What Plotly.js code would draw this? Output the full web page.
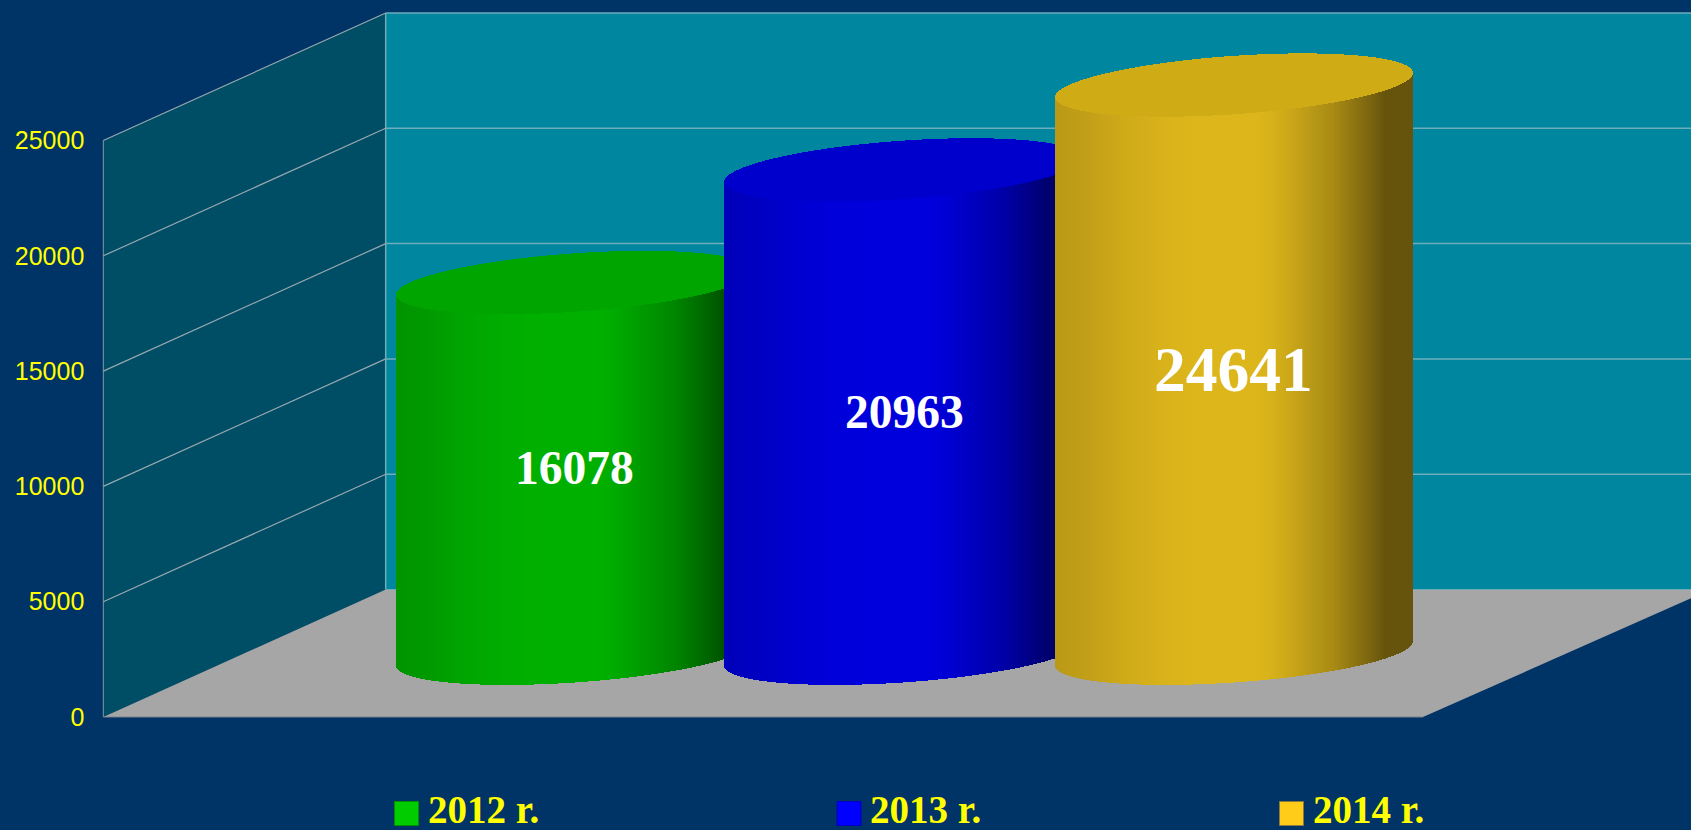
<!DOCTYPE html>
<html>
<head>
<meta charset="utf-8">
<script src="https://cdn.plot.ly/plotly-3.0.1.min.js"></script>
<style>html,body{margin:0;padding:0;background:#003366;overflow:hidden}</style>
</head>
<body>
<div id="chart" style="width:1691px;height:830px"></div>
<script>
// ---- data ----
const years = ['2012 r.', '2013 r.', '2014 r.'];
const values = [16078, 20963, 24641];
const tickValues = [0, 5000, 10000, 15000, 20000, 25000];
const bodyColors = [[0, 176, 0], [0, 0, 221], [221, 182, 27]];
const capColors = ['#00A500', '#0000CC', '#CFAC15'];
const swatchColors = ['#00CC00', '#0000FF', '#FFCC19'];
const swatchBorders = ['#009000', '#0000C0', '#8A7A40'];
const labelSizes = [47.5, 47.5, 63.5];

// ---- geometry of the pseudo-3D scene (x axis is in page pixels) ----
const pxPerUnit = 115.3 / 5000;
const zeroPx = 717;
const depth = 5529, wallDx = 282.4;
const leftX = 103.3, backX = leftX + wallDx, floorFrontRight = 1423, pageW = 1691, pageH = 830;
const cylCenters = [575, 903.5, 1234.5], cylA = 178.5;
const capB = 29.2 / pxPerUnit, capS = 12.2 / pxPerUnit;
const cylBase = depth / 2;
const shadeStops = [[0, .84], [.1, .88], [.2, .94], [.3, .98], [.4, 1], [.56, 1], [.6, .98], [.64, .94], [.68, .887],
                    [.78, .76], [.87, .58], [.925, .46], [1, .46]];

function shade(t) {
  for (let i = 1; i < shadeStops.length; i++) {
    if (t <= shadeStops[i][0]) {
      const [a, sa] = shadeStops[i - 1], [b, sb] = shadeStops[i];
      return sa + (sb - sa) * (t - a) / (b - a);
    }
  }
  return shadeStops[shadeStops.length - 1][1];
}
// vertical offset of the tilted ellipse rim at offset u (-1..1) from the centre
const rimTilt = u => capS * u;
const rimHalf = u => capB * Math.sqrt(Math.max(0, 1 - u * u));

const traces = [];
values.forEach((v, i) => {
  const xs = [], bodyBase = [], bodyH = [], bodyCol = [], capBase = [], capH = [];
  const x0 = Math.round(cylCenters[i] - cylA);
  const n = Math.round(2 * cylA);
  for (let k = 0; k < n; k++) {
    const t = (k + 0.5) / n;
    const u = 2 * t - 1;
    xs.push(x0 + k + 0.5);
    const low = cylBase + rimTilt(u) - rimHalf(u);
    bodyBase.push(low);
    bodyH.push(v);
    capBase.push(low + v);
    capH.push(2 * rimHalf(u));
    const s = shade(t), c = bodyColors[i];
    bodyCol.push(`rgb(${c.map(q => Math.round(q * s)).join(',')})`);
  }
  traces.push({type: 'bar', x: xs, y: bodyH, base: bodyBase, width: 1.02, name: years[i],
    marker: {color: bodyCol, line: {width: 0}}, showlegend: false, hoverinfo: 'skip'});
  traces.push({type: 'bar', x: xs, y: capH, base: capBase, width: 1.02, name: years[i],
    marker: {color: capColors[i], line: {width: 0}}, showlegend: false, hoverinfo: 'skip'});
});

// legend row
const legendX = [406.5, 849, 1291.5];
const legendTextX = [428, 870, 1313];
const legendY = (zeroPx - 813.5) / pxPerUnit;
years.forEach((name, i) => {
  traces.push({type: 'scatter', mode: 'markers', x: [legendX[i]], y: [legendY], name,
    cliponaxis: false, showlegend: false, hoverinfo: 'skip',
    marker: {symbol: 'square', size: 24, color: swatchColors[i], line: {width: 1, color: swatchBorders[i]}}});
  traces.push({type: 'scatter', mode: 'text', x: [legendTextX[i]], y: [legendY], name,
    text: [name], textposition: 'middle right', cliponaxis: false, showlegend: false, hoverinfo: 'skip',
    textfont: {family: '"Liberation Serif", serif', size: 39, color: '#FFFF00', weight: 'bold'}});
});

// walls, floor and gridlines
const poly = (pts, fill) => ({type: 'path', layer: 'below', xref: 'x', yref: 'y', fillcolor: fill, line: {width: 0},
  path: 'M' + pts.map(p => p.join(',')).join('L') + 'Z'});
const seg = (x0, y0, x1, y1, color, width) => ({type: 'line', layer: 'below', xref: 'x', yref: 'y', x0, y0, x1, y1, line: {color, width}});
const axisTop = tickValues[tickValues.length - 1];
const shapes = [
  poly([[leftX, 0], [leftX, axisTop], [backX, axisTop + depth], [backX, depth]], '#004D66'),
  poly([[backX, depth], [backX, axisTop + depth], [pageW, axisTop + depth], [pageW, depth]], '#00869F'),
  poly([[leftX, 0], [backX, depth], [pageW + 20, depth], [floorFrontRight, 0]], '#A6A6A6'),
  seg(leftX, 0, leftX, axisTop, '#7F9AA5', 1),
  seg(backX, depth, backX, axisTop + depth, '#6DAEBB', 1.5),
  seg(leftX, 0, floorFrontRight, 0, '#7A8088', 1)
];
tickValues.forEach(v => {
  if (v > 0) {
    shapes.push(seg(leftX, v, backX, v + depth, '#97A8AE', 1.2));
    shapes.push(seg(backX, v + depth, pageW, v + depth, '#6DAEBB', 1.5));
  }
});
shapes.push(seg(backX, depth, pageW, depth, '#6DAEBB', 1));

const annotations = values.map((v, i) => ({
  xref: 'x', yref: 'y', x: [574, 904, 1233.5][i], y: cylBase + v / 2, text: String(v), showarrow: false,
  xanchor: 'center', yanchor: 'middle',
  font: {family: '"Liberation Serif", serif', size: labelSizes[i], color: '#FFFFFF', weight: 'bold'}
}));

const layout = {
  width: pageW, height: pageH,
  margin: {l: 0, r: 0, t: 0, b: 0},
  paper_bgcolor: '#003366', plot_bgcolor: 'rgba(0,0,0,0)',
  barmode: 'overlay', bargap: 0, showlegend: false, hovermode: false,
  xaxis: {range: [0, pageW], visible: false, fixedrange: true},
  yaxis: {
    range: [(zeroPx - pageH) / pxPerUnit, zeroPx / pxPerUnit],
    anchor: 'free', position: leftX / pageW, side: 'left',
    tickmode: 'array', tickvals: tickValues, ticktext: tickValues.map(String),
    showgrid: false, zeroline: false, showline: false, ticks: '', ticklabelstandoff: 19,
    tickfont: {family: '"Liberation Sans", Arial, sans-serif', size: 25, color: '#FFFF00'},
    fixedrange: true
  },
  shapes, annotations
};
Plotly.newPlot('chart', traces, layout, {displayModeBar: false, responsive: false});
</script>
</body>
</html>
